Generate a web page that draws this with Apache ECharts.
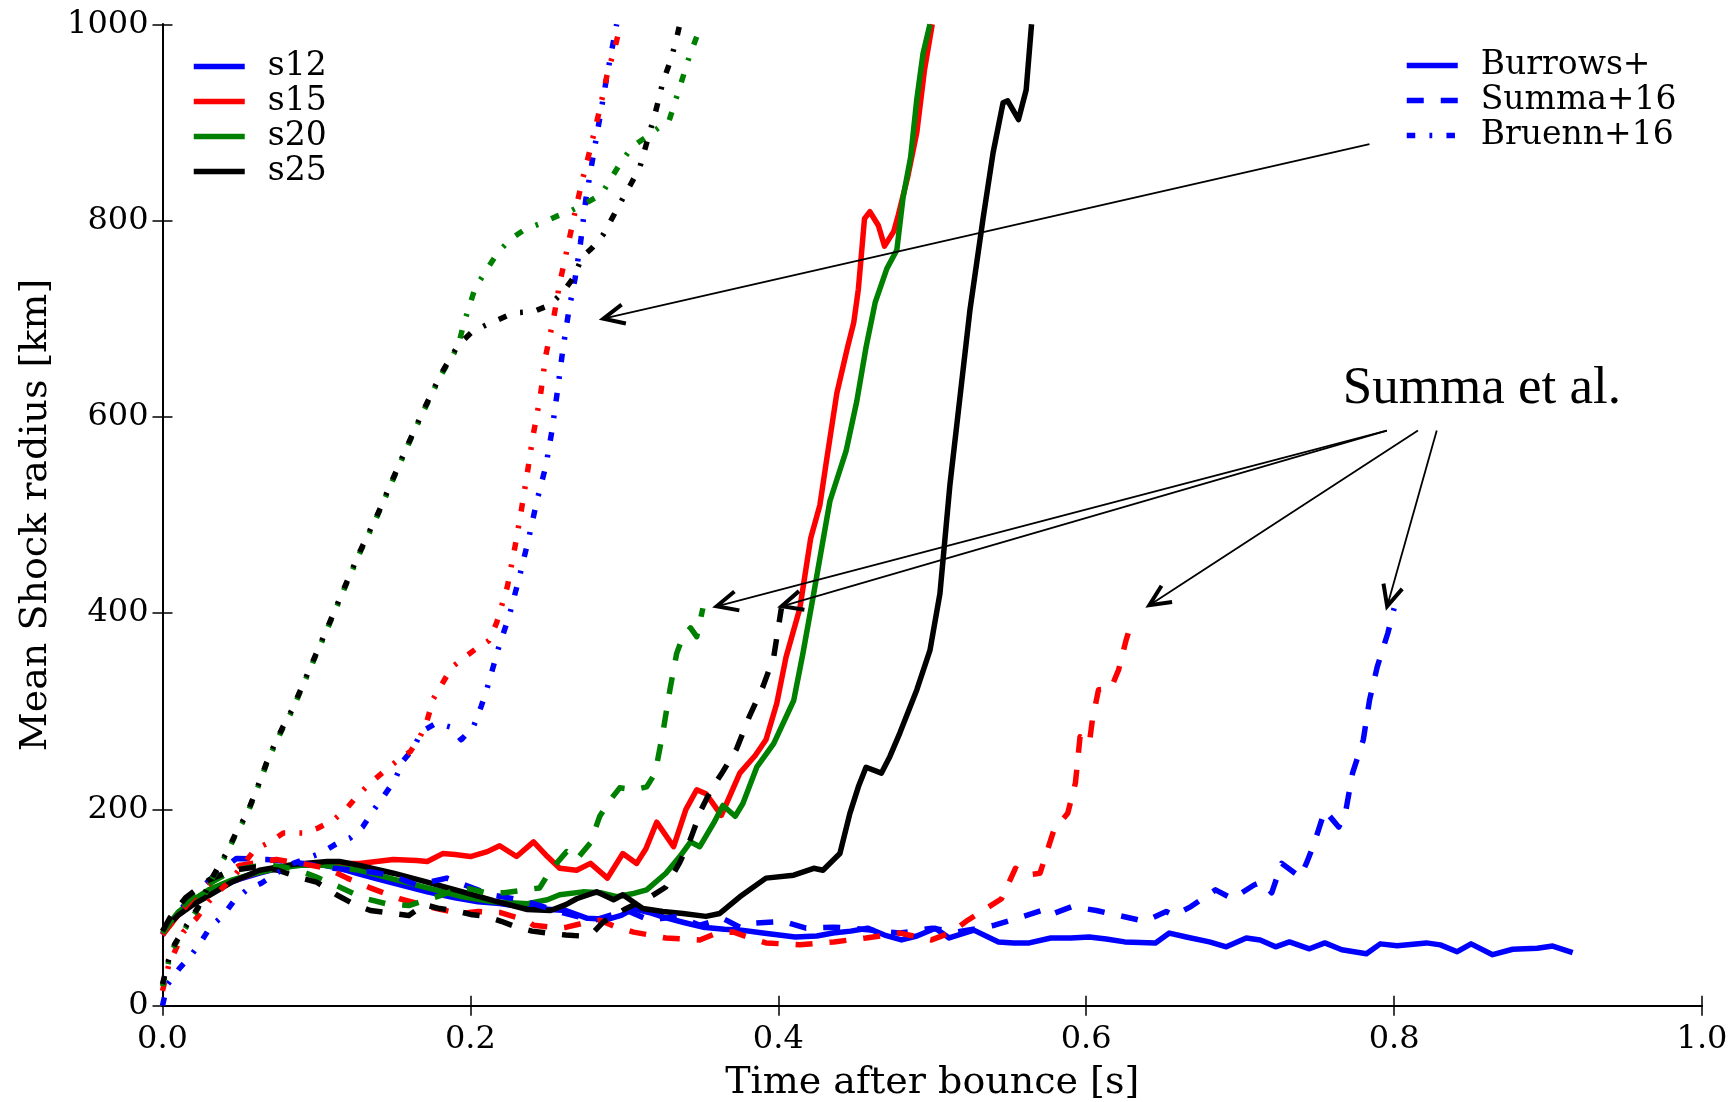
<!DOCTYPE html>
<html>
<head>
<meta charset="utf-8">
<script src="https://cdn.jsdelivr.net/npm/echarts@6/dist/echarts.min.js"></script>
<style>
html,body{margin:0;padding:0;background:#fff;}
#chart{width:1733px;height:1102px;}
</style>
</head>
<body>
<div id="chart"></div>
<script>
// ---------- data (time after bounce [s], mean shock radius [km]) ----------
const models = ['s12', 's15', 's20', 's25'];
const codes = ['Burrows+', 'Summa+16', 'Bruenn+16'];
const xTickValues = [0, 0.2, 0.4, 0.6, 0.8, 1.0];
const yTickValues = [0, 200, 400, 600, 800, 1000];

const burrowsS12 = [[0,73],[0.005,84],[0.01,93],[0.02,106],[0.031,116],[0.04,123],[0.05,129],[0.063,135],[0.075,140],[0.085,143],[0.095,144],[0.105,143],[0.115,140],[0.128,134],[0.14,129],[0.155,123],[0.172,116],[0.19,110],[0.205,106],[0.219,104],[0.237,100],[0.252,98],[0.262,97],[0.276,89],[0.289,88],[0.298,92],[0.306,99],[0.316,95],[0.326,90],[0.338,85],[0.351,80],[0.365,78],[0.376,77],[0.39,74],[0.411,70],[0.425,71],[0.4355,74],[0.447,76],[0.458,79],[0.469,72],[0.48,67],[0.49,71],[0.502,79],[0.511,69],[0.527,77],[0.543,65],[0.553,64],[0.563,64],[0.577,69],[0.59,69],[0.602,70],[0.613,68],[0.625,65],[0.645,64],[0.654,74],[0.665,70],[0.68,65],[0.691,60],[0.704,69],[0.713,67],[0.723,60],[0.732,65],[0.745,58],[0.755,64],[0.766,57],[0.782,53],[0.791,63],[0.802,61],[0.821,64],[0.83,62],[0.841,55],[0.85,63],[0.864,52],[0.877,57.5],[0.893,58.5],[0.903,60.8],[0.916,54]];
const burrowsS15 = [[0,73],[0.01,92],[0.02,105],[0.03,115],[0.045,127],[0.06,135],[0.074,140],[0.09,144],[0.11,145],[0.128,145],[0.15,149],[0.165,148],[0.172,147],[0.182,155],[0.19,154],[0.2,152],[0.211,157],[0.219,163],[0.23,152],[0.241,167],[0.25,152],[0.258,140],[0.269,138],[0.278,145],[0.289,130],[0.299,155],[0.308,145],[0.314,160],[0.321,187],[0.332,162],[0.34,200],[0.347,220],[0.353,216],[0.363,194],[0.375,237],[0.385,255],[0.392,271],[0.399,308],[0.405,355],[0.414,405],[0.421,476],[0.427,510],[0.431,552],[0.438,624],[0.445,671],[0.449,696],[0.452,730],[0.456,802],[0.4595,809],[0.465,795],[0.469,774],[0.475,789],[0.478,806],[0.484,844],[0.49,890],[0.495,954],[0.5,1000]];
const burrowsS20 = [[0,75],[0.01,95],[0.02,108],[0.03,118],[0.045,128],[0.06,135],[0.075,140],[0.09,143],[0.105,143],[0.128,138],[0.15,129],[0.172,120],[0.195,111],[0.215,106],[0.237,104],[0.25,108],[0.258,113],[0.273,116],[0.285,115],[0.295,111],[0.305,114],[0.3145,118],[0.327,135],[0.336,152],[0.343,167],[0.349,162],[0.358,186],[0.364,204],[0.372,193],[0.377,206],[0.386,243],[0.397,267],[0.41,311],[0.416,359],[0.423,420],[0.4335,514],[0.444,565],[0.451,616],[0.457,671],[0.463,717],[0.4705,751],[0.477,770],[0.481,823],[0.486,865],[0.49,924],[0.494,970],[0.4985,1000]];
const burrowsS25 = [[0,76],[0.01,92],[0.02,103],[0.031,113],[0.045,126],[0.063,138],[0.085,144],[0.107,147],[0.115,147],[0.128,143],[0.15,135],[0.172,126],[0.195,116],[0.215,107],[0.237,98],[0.252,97],[0.262,103],[0.269,109],[0.282,116],[0.293,108],[0.299,113],[0.312,99],[0.325,96],[0.338,94],[0.353,91],[0.362,94],[0.375,111],[0.392,130],[0.41,133],[0.423,140],[0.429,138],[0.44,155],[0.4465,196],[0.452,223],[0.457,243],[0.467,237],[0.4725,254],[0.479,278],[0.49,322],[0.4985,362],[0.505,420],[0.5115,531],[0.518,620],[0.5245,709],[0.533,802],[0.5395,869],[0.546,920],[0.549,922],[0.556,903],[0.561,933],[0.5645,1000]];

const summaS12 = [[0,72],[0.01,95],[0.02,113],[0.032,130],[0.048,150],[0.068,149],[0.091,145],[0.111,140],[0.137,136],[0.15,132],[0.165,123],[0.1846,130],[0.193,125],[0.213,113],[0.232,108],[0.241,104],[0.255,97],[0.269,91],[0.28,87],[0.2885,91],[0.3015,97],[0.3166,87],[0.334,91],[0.349,82],[0.364,89],[0.375,80],[0.384,84],[0.403,86],[0.418,79],[0.436,80],[0.4465,79],[0.46,77],[0.479,74],[0.5,79],[0.515,75],[0.531,79],[0.5405,82],[0.559,91],[0.575,99],[0.579,94],[0.5907,101],[0.6066,97],[0.621,92],[0.638,86],[0.652,96],[0.657,92],[0.668,101],[0.684,118],[0.695,109],[0.709,123],[0.714,126],[0.7205,115],[0.727,145],[0.739,131],[0.743,145],[0.748,165],[0.755,199],[0.764,182],[0.768,193],[0.773,237],[0.78,271],[0.784,311],[0.789,345],[0.796,380],[0.8,405]];
const summaS15 = [[0,72],[0.01,92],[0.02,110],[0.035,130],[0.05,143],[0.074,149],[0.09,145],[0.107,140],[0.12,130],[0.135,120],[0.154,109],[0.178,99],[0.193,94],[0.205,96],[0.219,95],[0.2366,87],[0.241,82],[0.258,79],[0.2625,80],[0.273,84],[0.284,87],[0.295,80],[0.306,75],[0.327,69],[0.349,67],[0.36,74],[0.371,75],[0.38,70],[0.392,64],[0.414,62],[0.436,65],[0.457,69],[0.479,74],[0.4995,67],[0.513,75],[0.522,86],[0.534,98],[0.545,109],[0.554,140],[0.561,133],[0.57,135],[0.579,179],[0.588,196],[0.593,227],[0.596,274],[0.602,267],[0.604,291],[0.608,322],[0.616,323],[0.621,342],[0.626,373],[0.629,388]];
const summaS20 = [[0,74],[0.01,96],[0.02,112],[0.03,124],[0.04,133],[0.05,139],[0.06,142],[0.07,143],[0.08,141],[0.09,137],[0.1,131],[0.115,121],[0.13,110],[0.145,104],[0.16,102],[0.172,108],[0.182,113],[0.193,120],[0.2,119],[0.21,115],[0.222,115],[0.235,118],[0.245,120],[0.252,138],[0.2625,157],[0.269,149],[0.278,166],[0.284,193],[0.291,210],[0.297,222],[0.306,220],[0.3145,223],[0.32,237],[0.325,278],[0.3296,322],[0.334,359],[0.338,376],[0.343,385],[0.347,376],[0.351,405]];
const summaS25 = [[0,76],[0.005,90],[0.015,110],[0.03,128],[0.045,138],[0.06,141],[0.075,138],[0.09,130],[0.1,126],[0.113,113],[0.125,103],[0.135,97],[0.15,94],[0.16,92],[0.17,103],[0.18,99],[0.19,97],[0.2,93],[0.21,91],[0.22,86],[0.23,80],[0.24,76],[0.25,74],[0.262,72],[0.272,71],[0.28,75],[0.286,85],[0.3,98],[0.317,111],[0.327,121],[0.336,146],[0.343,170],[0.35,200],[0.357,222],[0.363,236],[0.373,262],[0.381,294],[0.39,325],[0.397,355],[0.402,405]];

const bruennS12 = [[0,0],[0.003,21],[0.011,38],[0.018,50],[0.025,65],[0.031,80],[0.0395,92],[0.046,106],[0.0547,118],[0.0644,125],[0.074,135],[0.085,145],[0.102,155],[0.113,165],[0.122,171],[0.13,182],[0.137,199],[0.1434,213],[0.151,230],[0.156,249],[0.163,262],[0.168,279],[0.178,288],[0.187,284],[0.194,271],[0.2019,284],[0.207,305],[0.2106,322],[0.218,363],[0.2255,399],[0.2317,436],[0.238,477],[0.243,513],[0.249,550],[0.253,586],[0.2566,627],[0.26,668],[0.264,709],[0.268,741],[0.2715,777],[0.275,822],[0.279,859],[0.284,904],[0.289,950],[0.295,1000]];
const bruennS15 = [[0,15],[0.004,41],[0.0135,75],[0.022,89],[0.03,106],[0.046,131],[0.06,159],[0.07,167],[0.0785,176],[0.0915,176],[0.101,181],[0.111,189],[0.1196,201],[0.126,213],[0.135,227],[0.1434,238],[0.152,249],[0.161,259],[0.167,273],[0.1716,289],[0.176,313],[0.188,345],[0.203,363],[0.212,372],[0.217,390],[0.224,427],[0.229,468],[0.233,504],[0.2367,540],[0.2405,579],[0.2455,622],[0.249,663],[0.254,700],[0.258,736],[0.263,772],[0.268,809],[0.2727,841],[0.2777,872],[0.284,913],[0.289,950],[0.294,977],[0.2976,1000]];
const bruennS20 = [[0,20],[0.004,45],[0.008,62],[0.0157,81],[0.025,104],[0.031,126],[0.0417,155],[0.048,176],[0.0547,194],[0.059,211],[0.0633,228],[0.0677,247],[0.073,266],[0.0785,284],[0.084,300],[0.0988,354],[0.1087,390],[0.1187,427],[0.1286,463],[0.1398,500],[0.1497,536],[0.1597,572],[0.1696,606],[0.181,643],[0.192,672],[0.1957,695],[0.203,731],[0.2106,750],[0.218,768],[0.2268,782],[0.2355,791],[0.2455,797],[0.2554,804],[0.2653,810],[0.2753,818],[0.2852,827],[0.2976,859],[0.305,875],[0.315,886],[0.3225,895],[0.3287,900],[0.336,936],[0.3424,968],[0.35,1000]];
const bruennS25 = [[0,22],[0.004,47],[0.008,63],[0.0157,82],[0.025,105],[0.031,127],[0.0417,156],[0.048,177],[0.0547,195],[0.059,212],[0.0633,229],[0.0677,248],[0.073,267],[0.0785,285],[0.084,301],[0.0988,355],[0.1087,391],[0.1187,428],[0.1286,464],[0.1398,501],[0.1497,537],[0.1597,573],[0.1696,607],[0.181,644],[0.192,673],[0.2007,686],[0.2094,693],[0.228,706],[0.2405,707],[0.2516,714],[0.26,727],[0.2666,741],[0.2727,763],[0.279,772],[0.2864,786],[0.2926,804],[0.2988,822],[0.3038,836],[0.31,854],[0.315,882],[0.32,909],[0.325,941],[0.33,963],[0.3337,984],[0.336,1000]];

// annotation arrows (data coordinates: tail -> head)
const annoArrows = [
  { from: [0.784, 878], to: [0.2864, 700] },
  { from: [0.7953, 586], to: [0.36, 407] },
  { from: [0.7953, 586], to: [0.4022, 407] },
  { from: [0.8155, 586], to: [0.641, 408] },
  { from: [0.8277, 586], to: [0.7955, 407] }
];
const annoText = { text: 'Summa et al.', at: [0.857, 601] };

// ---------- styling ----------
const modelColors = ['#0000ff', '#ff0000', '#008000', '#000000'];
const codeDash = ['solid', [17, 17], [8.5, 14.2, 2.8, 14.2]];
const serif = 'DejaVu Serif';
const LW = 5.5;

const sets = [
  [burrowsS12, burrowsS15, burrowsS20, burrowsS25],
  [summaS12, summaS15, summaS20, summaS25],
  [bruennS12, bruennS15, bruennS20, bruennS25]
];

const series = [];
sets.forEach((set, ci) => set.forEach((d, mi) => {
  series.push({
    name: models[mi] + ' ' + codes[ci],
    type: 'line', data: d, symbol: 'none', showSymbol: false, silent: true,
    animation: false, clip: true,
    lineStyle: { color: modelColors[mi], width: LW, type: codeDash[ci], cap: 'butt', join: 'round' },
    itemStyle: { color: modelColors[mi] }
  });
}));
models.forEach((m, mi) => series.push({
  name: m, type: 'line', data: [], symbol: 'none', animation: false,
  lineStyle: { color: modelColors[mi], width: LW, type: 'solid', cap: 'butt' },
  itemStyle: { color: modelColors[mi] }
}));
codes.forEach((c, ci) => series.push({
  name: c, type: 'line', data: [], symbol: 'none', animation: false,
  lineStyle: { color: '#0000ff', width: LW, type: codeDash[ci], cap: 'butt' },
  itemStyle: { color: '#0000ff' }
}));

const axisLine = { show: true, lineStyle: { color: '#000', width: 2 } };
const tick = { show: true, inside: true, length: 10, lineStyle: { color: '#000', width: 1.5 } };

const legendCommon = {
  orient: 'vertical', padding: 0, itemWidth: 51, itemHeight: 14, itemGap: 2, selectedMode: false,
  textStyle: { fontFamily: serif, fontSize: 33, lineHeight: 33, color: '#000', padding: [0, 0, 0, 18] },
  lineStyle: { width: LW },
  itemStyle: { opacity: 0 }
};

const option = {
  backgroundColor: '#fff',
  animation: false,
  grid: { left: 162.5, right: 31, top: 24.3, bottom: 96.3, containLabel: false, outerBoundsMode: 'none' },
  legend: [
    Object.assign({}, legendCommon, { data: models, left: 191, top: 50 }),
    Object.assign({}, legendCommon, { data: codes, left: 1404, top: 49 })
  ],
  xAxis: [
    {
      type: 'value', min: xTickValues[0], max: xTickValues[xTickValues.length - 1], interval: 0.2, position: 'bottom',
      axisLine, axisTick: tick, splitLine: { show: false },
      axisLabel: { formatter: v => v.toFixed(1), fontFamily: serif, fontSize: 32, color: '#000', margin: 18, showMinLabel: true, showMaxLabel: true },
      name: 'Time after bounce [s]', nameLocation: 'middle', nameGap: 58, nameMoveOverlap: false,
      nameTextStyle: { fontFamily: serif, fontSize: 38, color: '#000' }
    },
    {
      type: 'value', min: 0, max: 1, interval: 0.2, position: 'top',
      axisLine, axisTick: tick, axisLabel: { show: false }, splitLine: { show: false }
    }
  ],
  yAxis: [
    {
      type: 'value', min: yTickValues[0], max: yTickValues[yTickValues.length - 1], interval: 200, position: 'left',
      axisLine, axisTick: tick, splitLine: { show: false },
      axisLabel: { formatter: v => String(v), fontFamily: serif, fontSize: 32, color: '#000', margin: 14, showMinLabel: true, showMaxLabel: true },
      name: 'Mean Shock radius [km]', nameLocation: 'middle', nameRotate: 90, nameGap: 107, nameMoveOverlap: false,
      nameTextStyle: { fontFamily: serif, fontSize: 38, color: '#000' }
    },
    {
      type: 'value', min: 0, max: 1000, interval: 200, position: 'right',
      axisLine, axisTick: tick, axisLabel: { show: false }, splitLine: { show: false }
    }
  ],
  series
};

const chart = echarts.init(document.getElementById('chart'), null, { renderer: 'canvas' });
chart.setOption(option);

// annotations positioned through the chart's own scales
const toPx = p => chart.convertToPixel({ xAxisIndex: 0, yAxisIndex: 0 }, p);
const graphics = [];
const headLen = 23, headAng = 25 * Math.PI / 180;
annoArrows.forEach(a => {
  const s = toPx(a.from), e = toPx(a.to);
  graphics.push({ type: 'line', silent: true, z: 100,
    shape: { x1: s[0], y1: s[1], x2: e[0], y2: e[1] },
    style: { stroke: '#000', lineWidth: 1.8 } });
  const ang = Math.atan2(s[1] - e[1], s[0] - e[0]);
  const p1 = [e[0] + headLen * Math.cos(ang + headAng), e[1] + headLen * Math.sin(ang + headAng)];
  const p2 = [e[0] + headLen * Math.cos(ang - headAng), e[1] + headLen * Math.sin(ang - headAng)];
  graphics.push({ type: 'polyline', silent: true, z: 100,
    shape: { points: [p1, e, p2] },
    style: { stroke: '#000', lineWidth: 4, fill: null, lineJoin: 'miter' } });
});
const tp = toPx(annoText.at);
graphics.push({ type: 'text', silent: true, z: 100, x: tp[0], y: tp[1],
  style: { text: annoText.text, fontFamily: 'Liberation Serif', fontSize: 53, fill: '#000', align: 'center', verticalAlign: 'bottom' } });
chart.setOption({ graphic: graphics });
</script>
</body>
</html>
